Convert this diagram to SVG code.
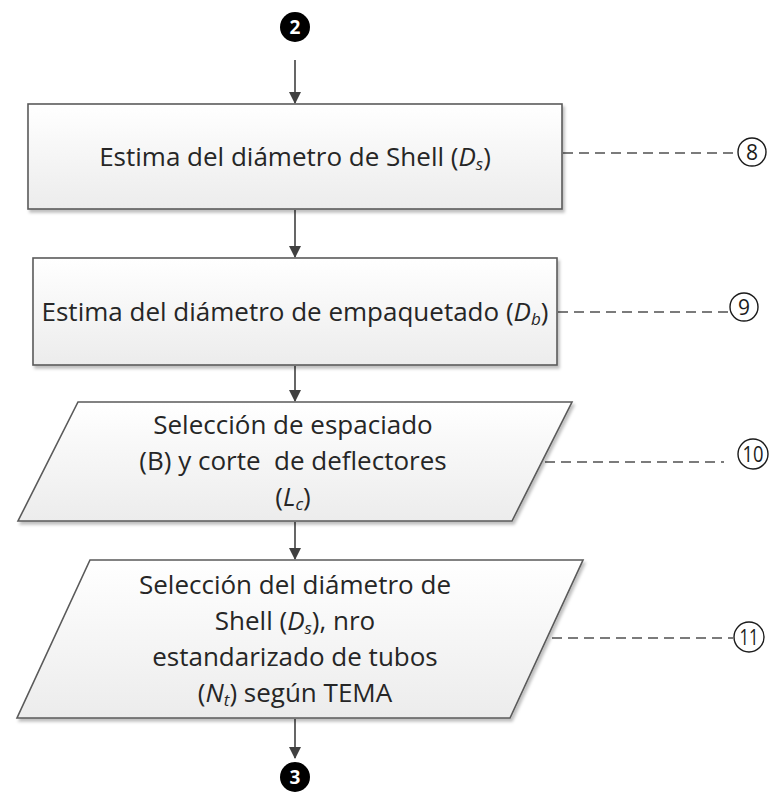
<svg xmlns="http://www.w3.org/2000/svg" width="774" height="795" viewBox="0 0 774 795">
<defs>
<linearGradient id="g" x1="0" y1="0" x2="0" y2="1">
<stop offset="0" stop-color="#ffffff"/>
<stop offset="1" stop-color="#ececec"/>
</linearGradient>
<filter id="sh" x="-5%" y="-5%" width="110%" height="115%">
<feDropShadow dx="2" dy="3" stdDeviation="1.5" flood-color="#000" flood-opacity="0.25"/>
</filter>
<marker id="ah" markerWidth="12" markerHeight="14" refX="11" refY="6" orient="auto" markerUnits="userSpaceOnUse">
<path d="M0,0 L12,6 L0,12 Z" fill="#404040"/>
</marker>
<style>
.shape{fill:url(#g);stroke:#5a5a5a;stroke-width:1.6;filter:url(#sh)}
.t{font-family:"Open Sans","Noto Sans",sans-serif;font-size:26px;fill:#262626;text-anchor:middle}
.i{font-style:italic}
.sub{font-size:17px;font-style:italic}
.conn{stroke:#404040;stroke-width:1.6;fill:none}
.dash{stroke:#505050;stroke-width:1.6;stroke-dasharray:10 6;fill:none}
.ref{fill:#fff;stroke:#1a1a1a;stroke-width:1.4}
.rn{font-family:"Open Sans","Noto Sans",sans-serif;font-size:21px;fill:#1a1a1a;text-anchor:middle}
.blk{fill:#000}
.bn{font-family:"Open Sans","Noto Sans",sans-serif;font-size:19px;font-weight:bold;fill:#fff;text-anchor:middle}
</style>
</defs>

<g id="connectors">
<line class="conn" x1="295" y1="60" x2="295" y2="103" marker-end="url(#ah)"/>
<line class="conn" x1="295" y1="210" x2="295" y2="257" marker-end="url(#ah)"/>
<line class="conn" x1="295" y1="366" x2="295" y2="401" marker-end="url(#ah)"/>
<line class="conn" x1="295" y1="522" x2="295" y2="559" marker-end="url(#ah)"/>
<line class="conn" x1="295" y1="719" x2="295" y2="758" marker-end="url(#ah)"/>
<line class="dash" x1="563" y1="153" x2="738" y2="153"/>
<line class="dash" x1="558" y1="312" x2="730" y2="312"/>
<line class="dash" x1="545" y1="462" x2="724" y2="462"/>
<line class="dash" x1="552" y1="638" x2="733" y2="638"/>
</g>

<g id="start2">
<circle class="blk" cx="295" cy="27" r="15"/>
<text class="bn" x="295" y="34">2</text>
</g>

<g id="box1">
<rect class="shape" x="28" y="104" width="534" height="105"/>
<text class="t" x="295" y="166">Estima del diámetro de Shell (<tspan class="i">D</tspan><tspan class="sub" dy="4">s</tspan><tspan dy="-4">)</tspan></text>
</g>

<g id="box2">
<rect class="shape" x="33" y="258" width="524" height="107"/>
<text class="t" x="295" y="321">Estima del diámetro de empaquetado (<tspan class="i">D</tspan><tspan class="sub" dy="4">b</tspan><tspan dy="-4">)</tspan></text>
</g>

<g id="para1">
<polygon class="shape" points="78,402 572,402 512,521 18,521"/>
<text class="t" x="293" y="434">Selección de espaciado</text>
<text class="t" x="293" y="470" style="white-space:pre">(B) y corte  de deflectores</text>
<text class="t" x="293" y="506">(<tspan class="i">L</tspan><tspan class="sub" dy="4">c</tspan><tspan dy="-4">)</tspan></text>
</g>

<g id="para2">
<polygon class="shape" points="90,560 583,560 510,718 17,718"/>
<text class="t" x="295" y="594">Selección del diámetro de</text>
<text class="t" x="295" y="630">Shell (<tspan class="i">D</tspan><tspan class="sub" dy="4">s</tspan><tspan dy="-4">), nro</tspan></text>
<text class="t" x="295" y="666">estandarizado de tubos</text>
<text class="t" x="295" y="702">(<tspan class="i">N</tspan><tspan class="sub" dy="4">t</tspan><tspan dy="-4">) según TEMA</tspan></text>
</g>

<g id="ref8">
<circle class="ref" cx="752" cy="152" r="14"/>
<text class="rn" x="752" y="159.5">8</text>
</g>
<g id="ref9">
<circle class="ref" cx="744" cy="307" r="14"/>
<text class="rn" x="744" y="314.5">9</text>
</g>
<g id="ref10">
<circle class="ref" cx="753" cy="454" r="15"/>
<text class="rn" x="753" y="461.5" textLength="21" lengthAdjust="spacingAndGlyphs">10</text>
</g>
<g id="ref11">
<circle class="ref" cx="749" cy="637" r="15"/>
<text class="rn" x="749" y="644.5" textLength="19" lengthAdjust="spacingAndGlyphs">11</text>
</g>

<g id="end3">
<circle class="blk" cx="295" cy="777" r="15"/>
<text class="bn" x="295" y="784">3</text>
</g>
</svg>
